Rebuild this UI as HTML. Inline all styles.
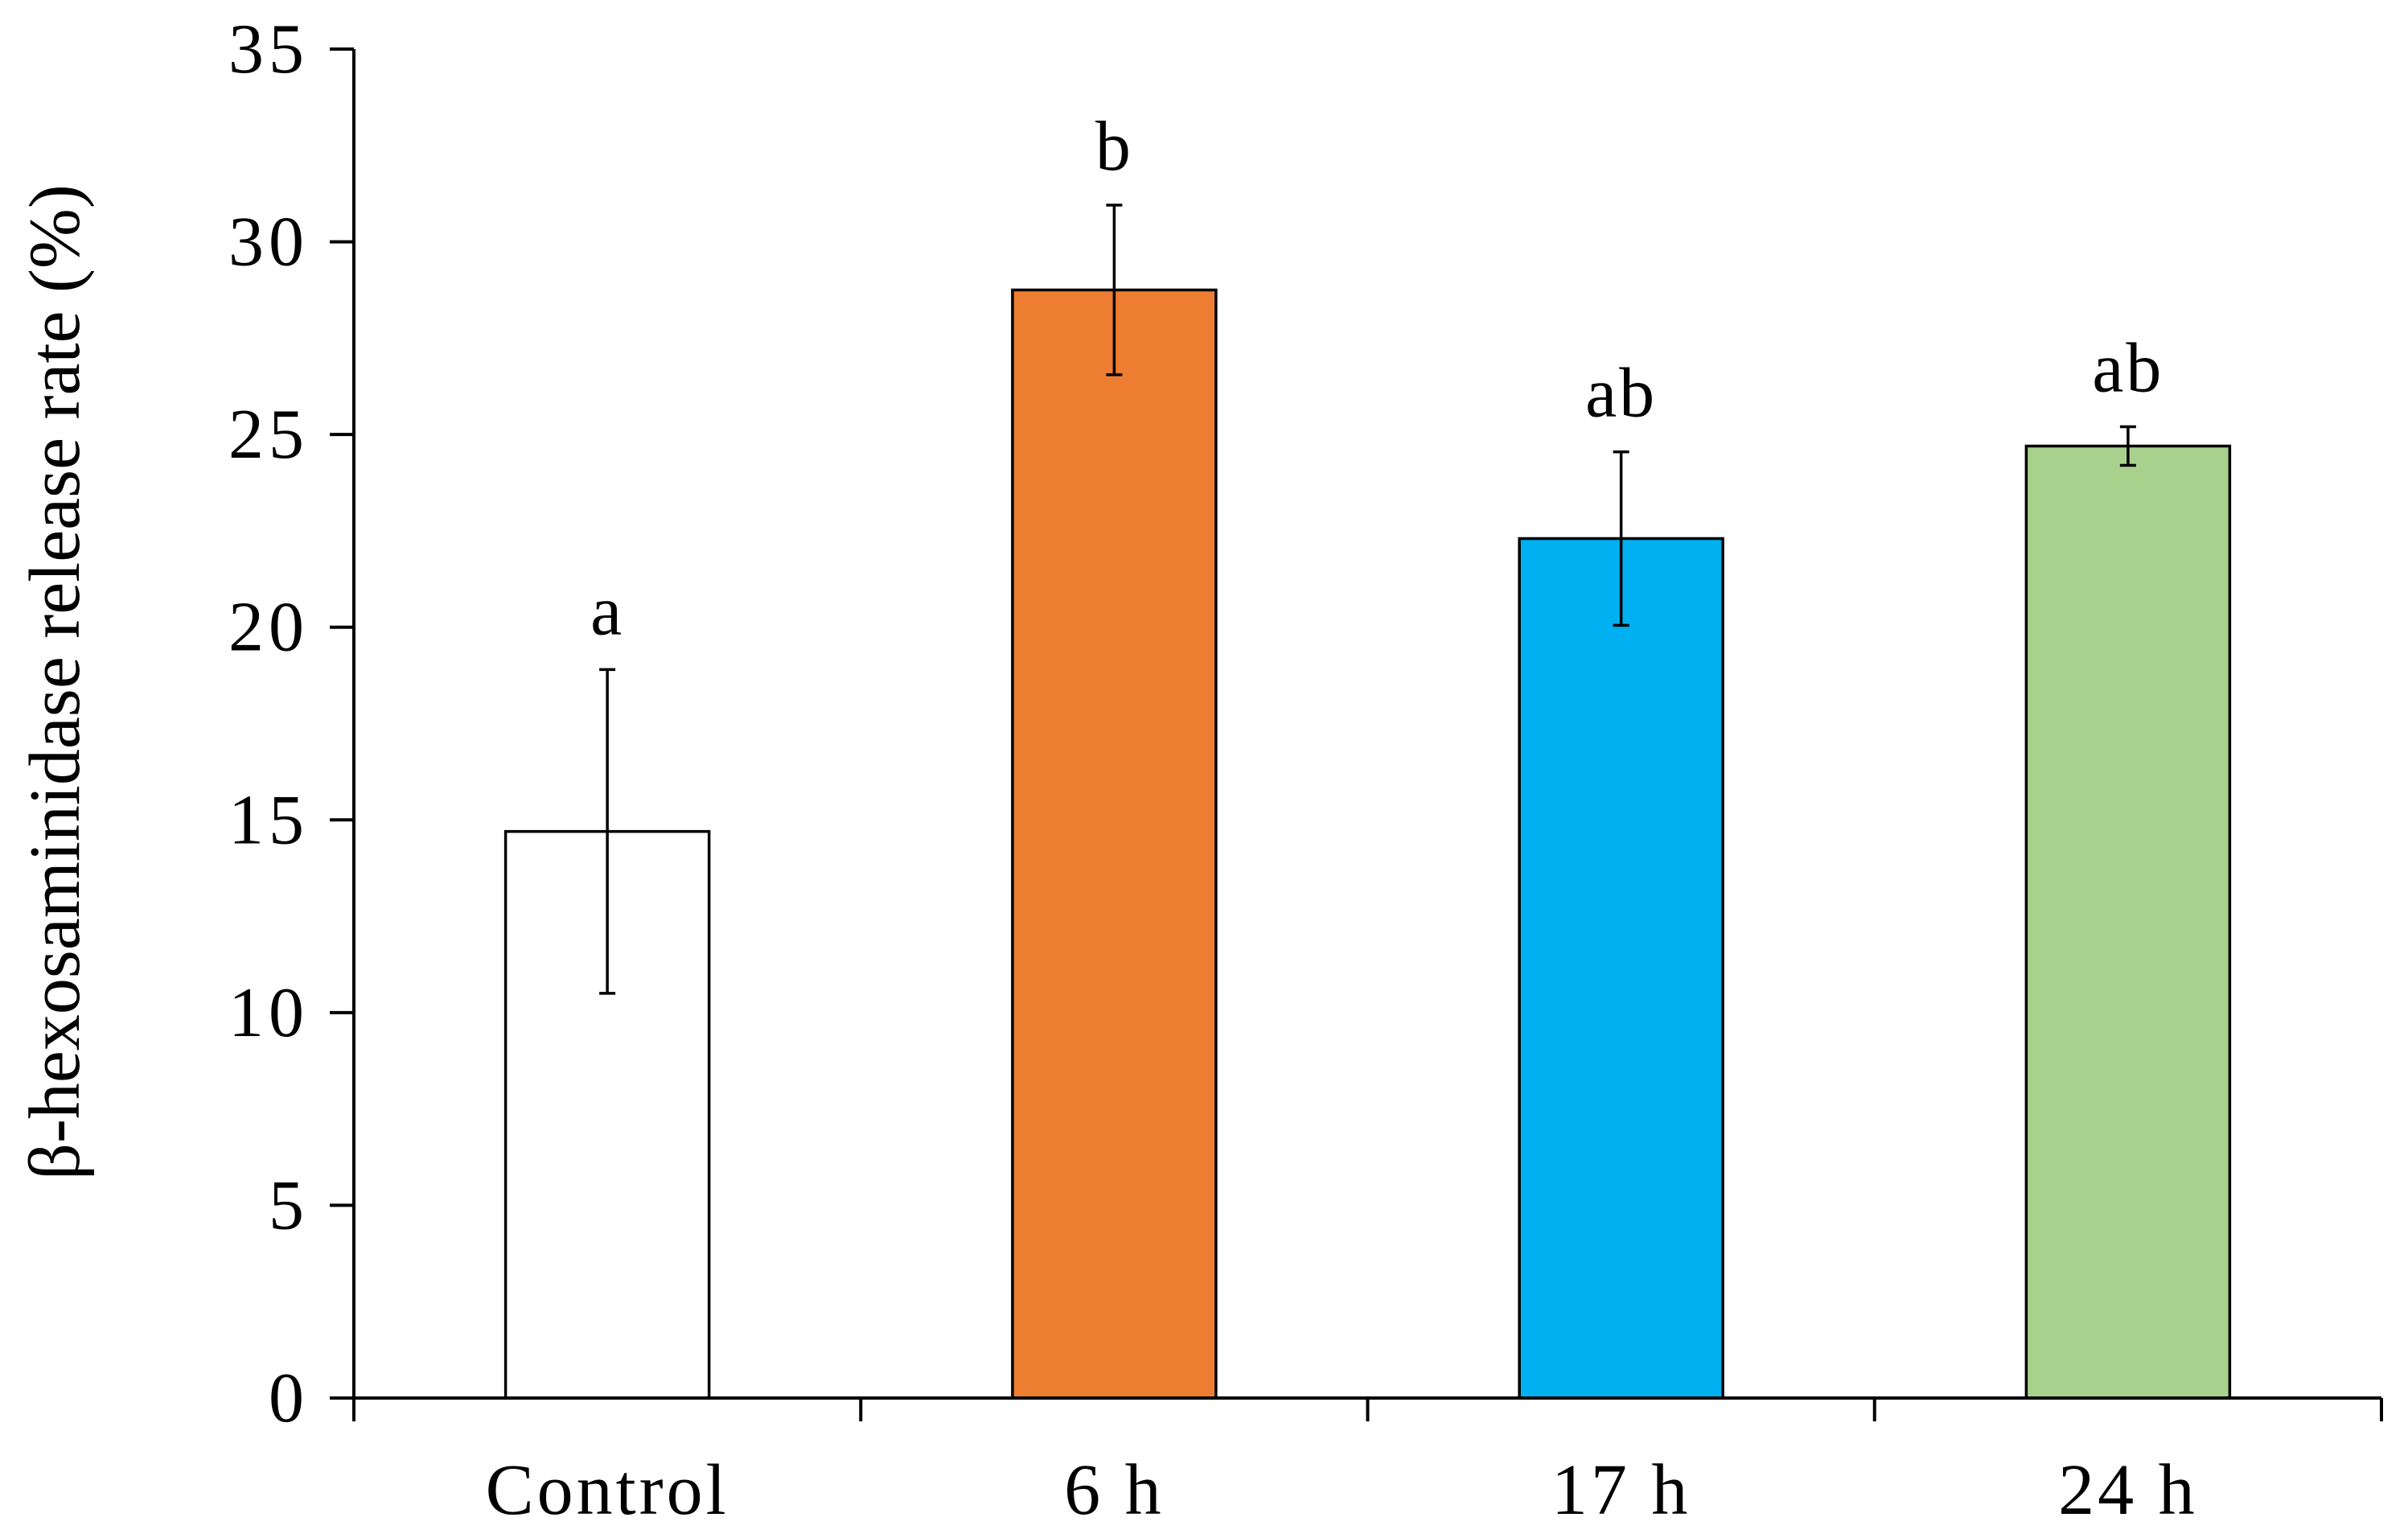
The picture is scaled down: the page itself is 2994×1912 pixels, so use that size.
<!DOCTYPE html>
<html><head><meta charset="utf-8"><style>
html,body{margin:0;padding:0;background:#fff;}
svg{display:block;}
text{font-family:"Liberation Serif",serif;fill:#000;}
</style></head><body>
<svg id="chart" width="2994" height="1912" viewBox="0 0 2994 1912" xmlns="http://www.w3.org/2000/svg">
<g id="bars"></g>
<g id="axes"></g>
<text transform="translate(98,848) rotate(-90)" text-anchor="middle" font-size="90">β-hexosaminidase release rate (%)</text>
</svg>
<script>
const categories = ["Control", "6 h", "17 h", "24 h"];
const values = [14.7, 28.75, 22.3, 24.7];
const errors = [4.2, 2.2, 2.25, 0.5];
const letters = ["a", "b", "ab", "ab"];
const colors = ["#FFFFFF", "#ED7D31", "#00B0F0", "#A9D18E"];
const yTicks = [0, 5, 10, 15, 20, 25, 30, 35];

const NS = "http://www.w3.org/2000/svg";
const x0 = 440, x1 = 2961, y0 = 1738, yTop = 61, yMax = 35;
const band = (x1 - x0) / categories.length;
const barW = 253;
function yScale(v){ return y0 - (v / yMax) * (y0 - yTop); }
function xCenter(i){ return x0 + band * (i + 0.5); }
function mk(tag, attrs, parent){
  const e = document.createElementNS(NS, tag);
  for (const k in attrs) e.setAttribute(k, attrs[k]);
  parent.appendChild(e);
  return e;
}
const bars = document.getElementById("bars");
const axes = document.getElementById("axes");

categories.forEach((c, i) => {
  const cx = xCenter(i), top = yScale(values[i]);
  const r = mk("rect", {x: cx - barW/2, y: top, width: barW, height: y0 - top, fill: colors[i], stroke: "#000", "stroke-width": 3.5}, bars);
  
  
  const eh = yScale(values[i] + errors[i]), el = yScale(values[i] - errors[i]);
  const g = mk("g", {stroke: "#000", "stroke-width": 3.5}, bars);
  
  
  mk("line", {x1: cx, x2: cx, y1: eh, y2: el}, g);
  mk("line", {x1: cx - 10, x2: cx + 10, y1: eh, y2: eh}, g);
  mk("line", {x1: cx - 10, x2: cx + 10, y1: el, y2: el}, g);
  const t = mk("text", {x: cx, y: eh - 44, "text-anchor": "middle", "font-size": 88, "letter-spacing": 3}, bars);
  t.textContent = letters[i];
  
  
  const lab = mk("text", {x: cx, y: 1882, "text-anchor": "middle", "font-size": 90, "letter-spacing": 4}, axes);
  lab.textContent = c;
  
  
});
const ya = mk("line", {x1: x0, x2: x0, y1: yTop, y2: y0 + 2, stroke: "#000", "stroke-width": 4}, axes);


const xa = mk("line", {x1: x0 - 30, x2: x1, y1: y0, y2: y0, stroke: "#000", "stroke-width": 4}, axes);


yTicks.forEach(v => {
  const y = yScale(v);
  const tk = mk("line", {x1: x0 - 30, x2: x0, y1: y, y2: y, stroke: "#000", "stroke-width": 4}, axes);
  
  
  const t = mk("text", {x: 384, y: y + 29, "text-anchor": "end", "font-size": 88, "letter-spacing": 6}, axes);
  t.textContent = v;
  
  
});
for (let i = 0; i <= categories.length; i++) {
  const x = x0 + band * i;
  const tk = mk("line", {x1: x, x2: x, y1: y0, y2: y0 + 29, stroke: "#000", "stroke-width": 4}, axes);
  
  
}
</script>
</body></html>
